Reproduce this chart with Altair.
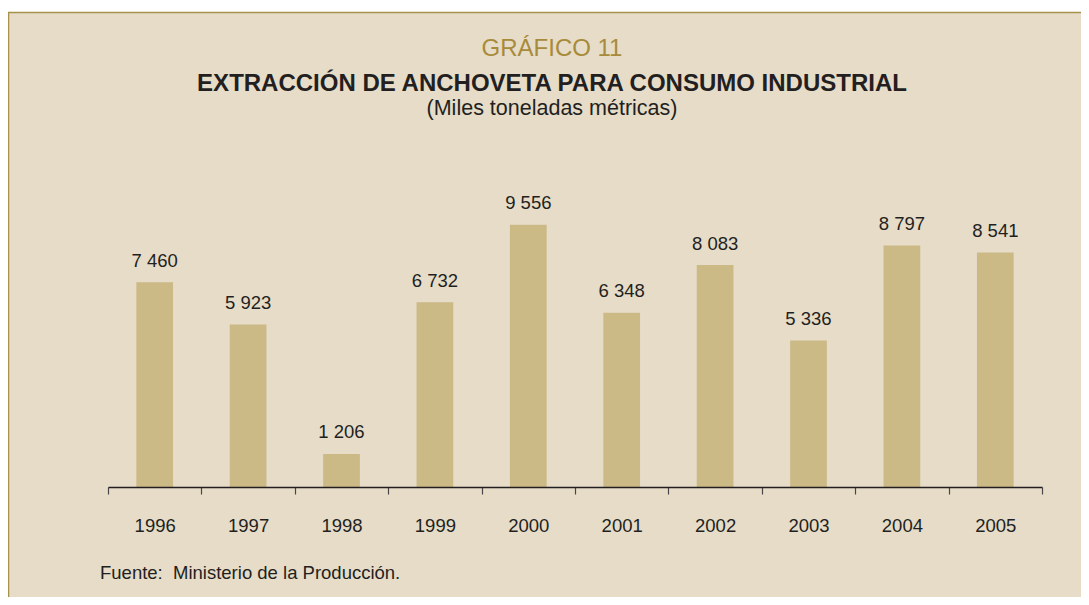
import altair as alt
import pandas as pd

# ---- data ----
years = ["1996", "1997", "1998", "1999", "2000", "2001", "2002", "2003", "2004", "2005"]
values = [7460, 5923, 1206, 6732, 9556, 6348, 8083, 5336, 8797, 8541]
value_labels = ["7 460", "5 923", "1 206", "6 732", "9 556", "6 348", "8 083", "5 336", "8 797", "8 541"]

title_top = "GRÁFICO 11"
title_main = "EXTRACCIÓN DE ANCHOVETA PARA CONSUMO INDUSTRIAL"
title_sub = "(Miles toneladas métricas)"
source_note = "Fuente:\u00a0\u00a0Ministerio de la Producción."

df = pd.DataFrame({"year": years, "value": values, "label": value_labels})

FONT = "Liberation Sans"
DARK = "#231f20"
GOLD = "#a88b3a"
BG = "#e6dcc8"
BAR = "#cbb986"
FRAME = "#a8914b"

W, H = 934, 302
PAD = {"left": 100, "top": 177, "right": 39, "bottom": 110}

x_enc = alt.X(
    "year:N",
    sort=years,
    scale=alt.Scale(paddingInner=0, paddingOuter=0),
    axis=alt.Axis(
        title=None,
        labelAngle=0,
        labelFont=FONT,
        labelFontSize=18.5,
        labelColor=DARK,
        labelPadding=22,
        tickSize=7,
        tickBand="extent",
        tickColor="#4a4546",
        tickWidth=1.2,
        domainColor=DARK,
        domainWidth=1.3,
        grid=False,
        zindex=1,
    ),
)
y_enc = alt.Y("value:Q", scale=alt.Scale(domain=[0, 11000]), axis=None)

one = pd.DataFrame({"k": [0]})

frame = alt.Chart(one).mark_rect(fill=BG, stroke=FRAME, strokeWidth=1.5).encode(
    x=alt.value(-99.5), x2=alt.value(1200), y=alt.value(-172.5), y2=alt.value(700)
)

bars = alt.Chart(df).mark_bar(color=BAR, width=alt.RelativeBandSize(0.393)).encode(x=x_enc, y=y_enc)

labels = alt.Chart(df).mark_text(
    dy=-15.5, baseline="alphabetic", font=FONT, fontSize=18.5, color=DARK
).encode(x=alt.X("year:N", sort=years), y=y_enc, text="label:N")


def text_layer(txt, xv, yv, size, color, weight="normal", align="center"):
    return alt.Chart(pd.DataFrame({"t": [txt]})).mark_text(
        font=FONT, fontSize=size, color=color, fontWeight=weight,
        align=align, baseline="alphabetic"
    ).encode(x=alt.value(xv), y=alt.value(yv), text="t:N")


t1 = text_layer(title_top, 444, -129.5, 24, GOLD)
t2 = text_layer(title_main, 444, -94.5, 24, DARK, weight="bold")
t3 = text_layer(title_sub, 444, -70.5, 21.5, DARK)
t4 = text_layer(source_note, -8, 394, 18.5, DARK, align="left")

chart = (
    alt.layer(frame, bars, labels, t1, t2, t3, t4)
    .properties(width=W, height=H, padding=PAD, autosize=alt.AutoSizeParams(type="none"), background="#ffffff")
    .configure_view(strokeWidth=0)
)

chart.save("out.html", embed_options={"renderer": "svg", "actions": False})
